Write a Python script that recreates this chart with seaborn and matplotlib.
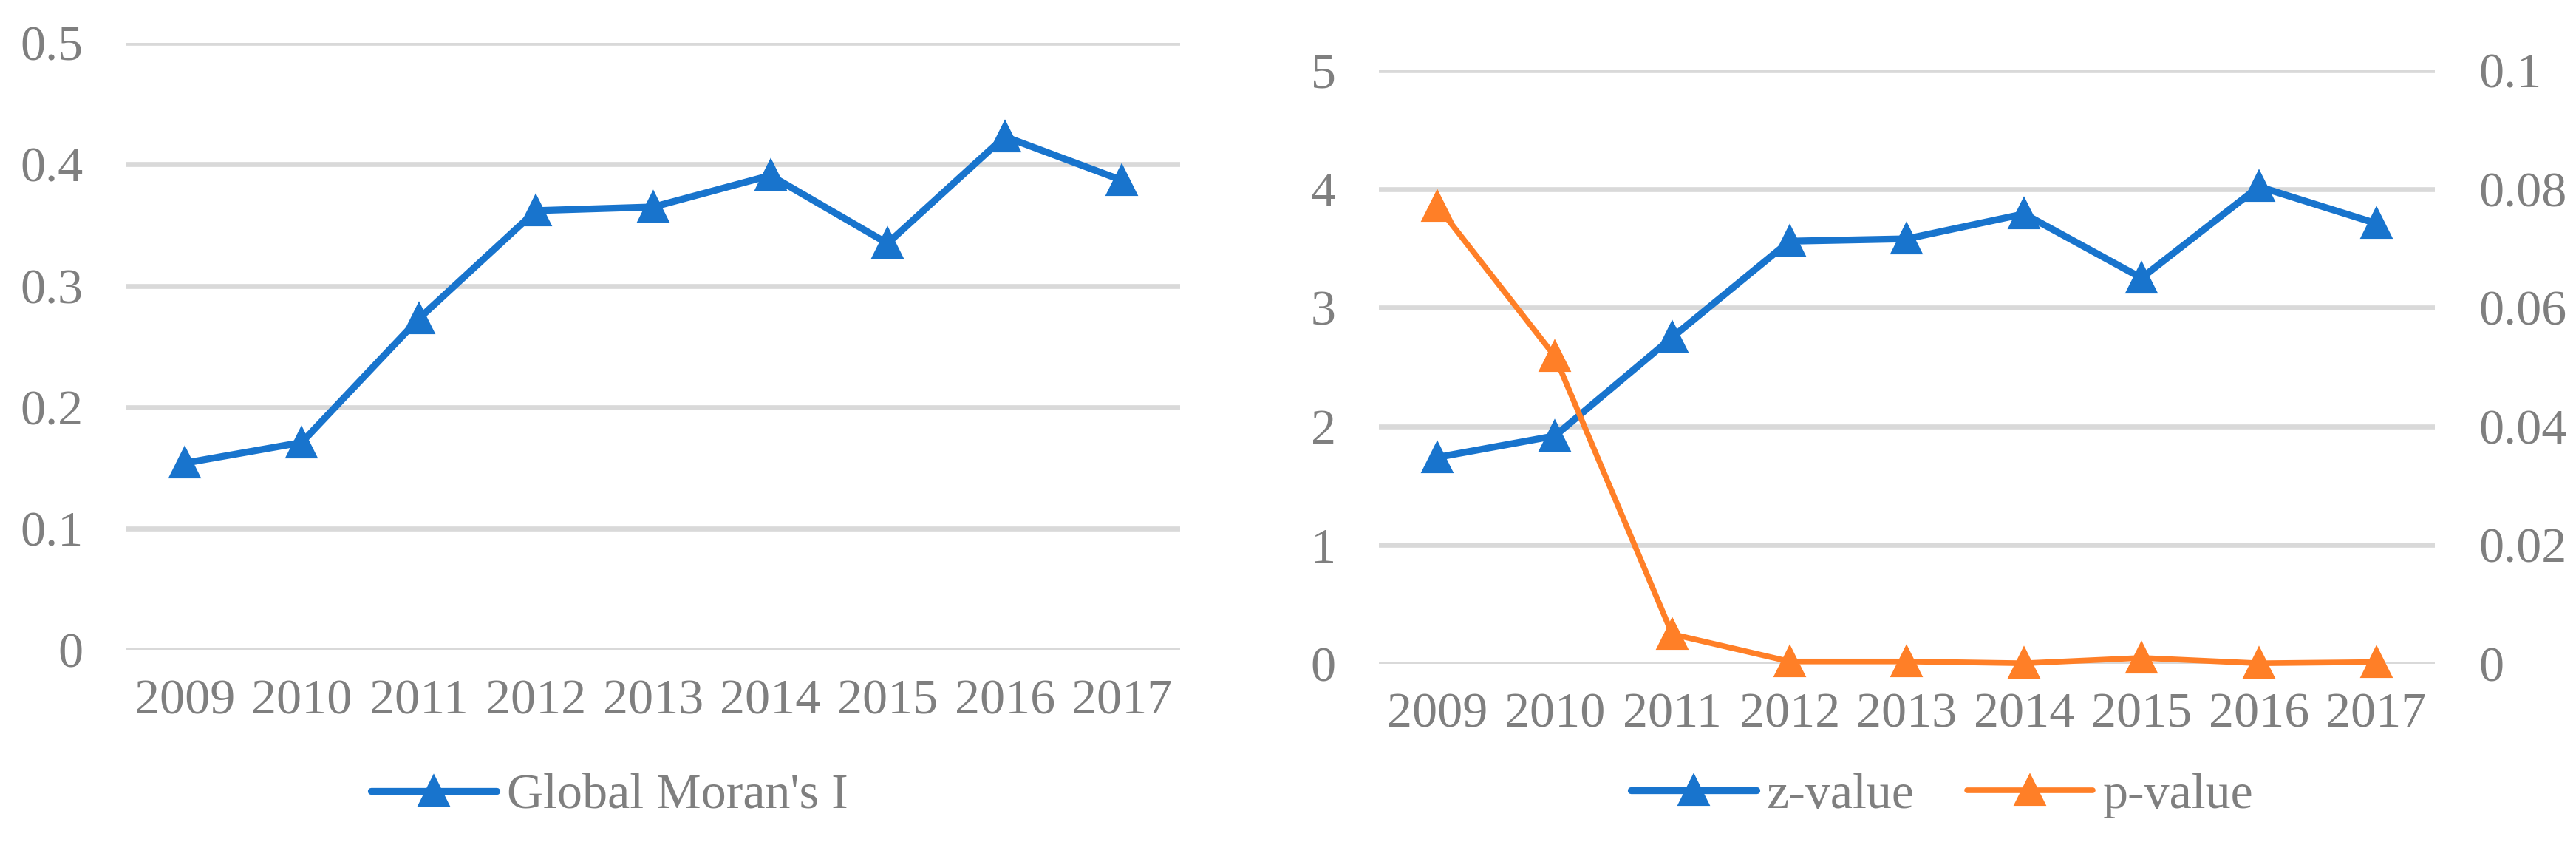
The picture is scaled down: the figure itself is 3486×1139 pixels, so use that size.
import matplotlib
matplotlib.use("Agg")
import matplotlib.pyplot as plt
import seaborn as sns
import pandas as pd

# ---- data ----
years = ["2009", "2010", "2011", "2012", "2013", "2014", "2015", "2016", "2017"]
morans_i = [0.154, 0.171, 0.273, 0.362, 0.365, 0.391, 0.335, 0.423, 0.387]
z_values = [1.74, 1.92, 2.75, 3.56, 3.58, 3.79, 3.25, 4.02, 3.71]
p_values = [0.0771, 0.0518, 0.0050, 0.0004, 0.0004, 0.0001, 0.0010, 0.0001, 0.0003]
left_yticks = [0, 0.1, 0.2, 0.3, 0.4, 0.5]
z_yticks = [0, 1, 2, 3, 4, 5]
p_yticks = [0, 0.02, 0.04, 0.06, 0.08, 0.1]

BLUE = "#1874CD"
ORANGE = "#FF7F27"
GREY = "#7F7F7F"
GRID = "#D9D9D9"
FS = 49

sns.set_theme(style="white")
plt.rcParams["font.family"] = ["Liberation Serif", "DejaVu Serif"]

W, H = 3487, 1139
fig = plt.figure(figsize=(W / 100, H / 100), dpi=100)

ax_l = fig.add_axes([170.5 / W, 1 - 879.3 / H, 1427 / W, 821 / H])
ax_r = fig.add_axes([1866 / W, 1 - 898 / H, 1429 / W, 803 / H])

df_l = pd.DataFrame({"year": years, "value": morans_i})
df_r = pd.DataFrame({"year": years, "z": z_values, "p": p_values})

line_kw = dict(marker="^", markersize=27, markeredgewidth=3,
               solid_joinstyle="round", solid_capstyle="round", clip_on=False)

sns.lineplot(data=df_l, x="year", y="value", ax=ax_l, sort=False, color=BLUE,
             linewidth=6.7, markeredgecolor=BLUE, label="Global Moran's I",
             legend=False, **line_kw)

sns.lineplot(data=df_r, x="year", y="z", ax=ax_r, sort=False, color=BLUE,
             linewidth=6.7, markeredgecolor=BLUE, label="z-value",
             legend=False, **line_kw)
ax_p = ax_r.twinx()
sns.lineplot(data=df_r, x="year", y="p", ax=ax_p, sort=False, color=ORANGE,
             linewidth=5.5, markeredgecolor=ORANGE, label="p-value",
             legend=False, **line_kw)


def fmt(v):
    return f"{v:g}"


def style(ax, ticks):
    ax.set_xlim(-0.5, len(years) - 0.5)
    ax.set_ylim(ticks[0], ticks[-1])
    ax.set_yticks(ticks)
    ax.set_yticklabels([fmt(t) for t in ticks])
    ax.set_xlabel("")
    ax.set_ylabel("")
    for s in ax.spines.values():
        s.set_visible(False)
    ax.tick_params(axis="both", length=0, labelsize=FS, colors=GREY)
    ax.tick_params(axis="y", pad=42)
    ax.tick_params(axis="x", pad=28)
    ax.set_facecolor("none")


for ax, ticks in [(ax_l, left_yticks), (ax_r, z_yticks)]:
    style(ax, ticks)
    ax.yaxis.grid(True, color=GRID, linewidth=4.8)
    ax.set_axisbelow(True)
    ax.xaxis.grid(False)

style(ax_p, p_yticks)
ax_p.grid(False)
ax_p.tick_params(axis="y", pad=43)
ax_p.set_xlabel("")

# legends
h_l, lab_l = ax_l.get_legend_handles_labels()
fig.legend(h_l, lab_l, loc="center", bbox_to_anchor=(825 / W, 1 - 1077 / H),
           frameon=False, fontsize=FS, handlelength=2.5, handletextpad=0.2,
           labelcolor=GREY, numpoints=1)

h_z, lab_z = ax_r.get_legend_handles_labels()
h_p, lab_p = ax_p.get_legend_handles_labels()
fig.legend(h_z + h_p, lab_z + lab_p, loc="center", ncol=2,
           bbox_to_anchor=(2628 / W, 1 - 1076 / H), frameon=False, fontsize=FS,
           handlelength=2.5, handletextpad=0.2, columnspacing=1.05,
           labelcolor=GREY, numpoints=1)

fig.savefig("out.png", dpi=100, facecolor="white")
